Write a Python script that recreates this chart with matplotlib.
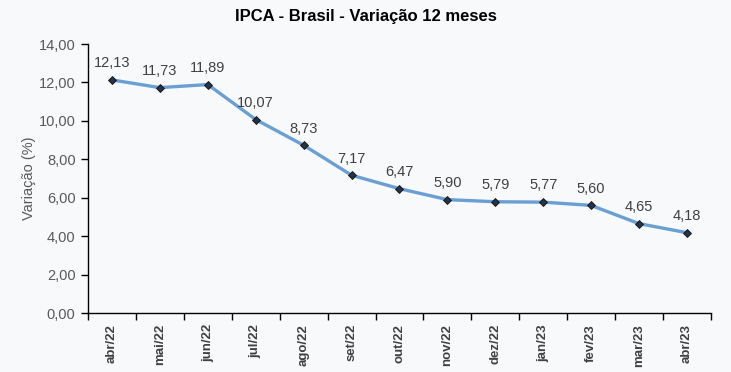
import numpy as np
import matplotlib.pyplot as plt
from matplotlib.ticker import FixedLocator, NullFormatter

plt.rcParams['font.family'] = ['Liberation Sans', 'DejaVu Sans']

# Dados
meses = ["abr/22", "mai/22", "jun/22", "jul/22", "ago/22", "set/22", "out/22",
         "nov/22", "dez/22", "jan/23", "fev/23", "mar/23", "abr/23"]
ipca = [12.13, 11.73, 11.89, 10.07, 8.73, 7.17, 6.47, 5.90, 5.79, 5.77, 5.60, 4.65, 4.18]
y_ticks = [0, 2, 4, 6, 8, 10, 12, 14]

bg = "#f8f9fb"
fig = plt.figure(figsize=(7.31, 3.72), dpi=100, facecolor=bg)
ax = fig.add_axes([0.1204, 0.1586, 0.8522, 0.7231], facecolor=bg)

x = np.arange(len(meses))
ax.plot(x, ipca, color="#6a9fd3", lw=2.4, marker="D", ms=4,
        mfc="#243447", mec="#111111", mew=0.6, zorder=3)

# Rótulos de dados
for xi, v in zip(x, ipca):
    ax.annotate(f"{v:.2f}".replace(".", ","), (xi, v), xytext=(0, 7),
                textcoords="offset points", ha="center", va="bottom",
                fontsize=10.5, color="#404040")

ax.set_xlim(-0.5, len(meses) - 0.5)
ax.set_ylim(0, 14)
ax.set_yticks(y_ticks)
ax.set_yticklabels([f"{t:.2f}".replace(".", ",") for t in y_ticks])

# Ticks entre categorias
ax.set_xticks(x)
ax.set_xticklabels(meses, rotation=90, fontweight="bold", fontsize=9.5, color="#404040")
ax.tick_params(axis="x", which="major", length=0, pad=8)
ax.xaxis.set_minor_locator(FixedLocator(np.arange(-0.5, len(meses), 1)))
ax.xaxis.set_minor_formatter(NullFormatter())
ax.tick_params(axis="x", which="minor", length=5, width=1, color="#000000")
ax.tick_params(axis="y", length=5, width=1, labelsize=10.5, labelcolor="#595959", pad=4)

for s in ["top", "right"]:
    ax.spines[s].set_visible(False)
for s in ["left", "bottom"]:
    ax.spines[s].set_color("#000000")
    ax.spines[s].set_linewidth(1)

ax.set_ylabel("Variação (%)", fontsize=10.5, color="#595959", labelpad=2)

fig.text(0.5, 0.955, "IPCA - Brasil - Variação 12 meses", ha="center", va="center",
         fontsize=12, fontweight="bold", color="#000000")

fig.savefig("out.png", dpi=100, facecolor=bg)
